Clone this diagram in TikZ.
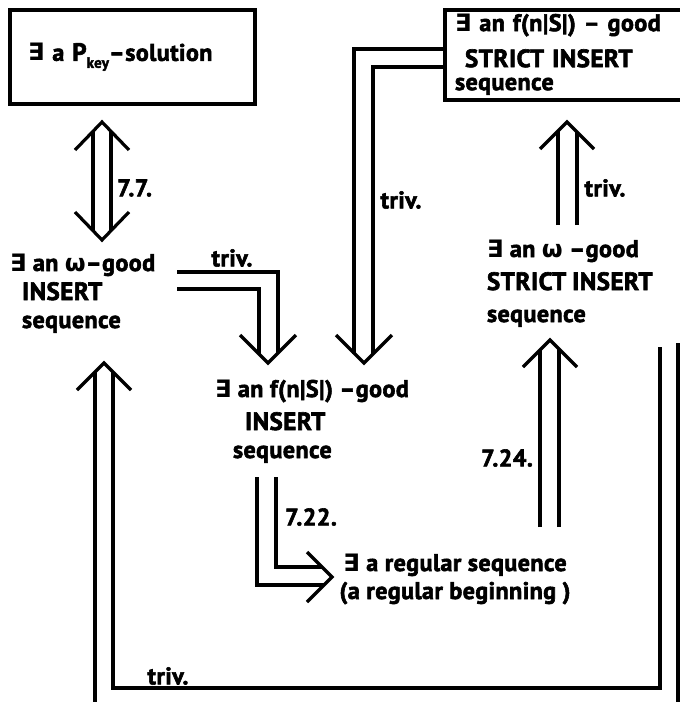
\documentclass[tikz,border=0pt]{standalone}
\usepackage{fontspec}
\newfontfamily\lf{PT Sans}[BoldFeatures={FakeBold=2.5}, LetterSpace=2]
\newfontfamily\djv{DejaVu Sans}
\newcommand\EX{{\djv\bfseries ∃}}
\newcommand\OM{{\djv\bfseries ω}}
\newcommand\K[1]{{\fontsize{25}{28}\selectfont #1}}
\newcommand\ML[3]{\fontsize{24}{#2}\selectfont\begin{tabular}[t]{@{}#1@{}}#3\end{tabular}}
\begin{document}
\begin{tikzpicture}[x=1pt,y=-1pt,
  txt/.style={font=\lf\bfseries\fontsize{24}{29}\selectfont, inner sep=0pt, outer sep=0pt, anchor=base west},
  bx/.style={draw, line width=3.2pt, inner sep=0pt, outer sep=0pt, anchor=north west,
    font=\lf\bfseries\fontsize{24}{29}\selectfont, align=left},
  ln/.style={line width=3.2pt, line join=miter},
  lbl/.style={font=\lf\bfseries\fontsize{24}{24}\selectfont, inner sep=0pt}]
\useasboundingbox (0,0) rectangle (680,702);

% boxes
\node[bx, minimum width=240pt, minimum height=94pt, text width=209pt, inner xsep=18pt] (B1) at (10,10)
  {\raisebox{-4pt}{\EX\ a \K{P}\raisebox{-7pt}{\fontsize{15}{15}\selectfont key}–solution}};
\node[bx, minimum width=232pt, minimum height=90pt, text width=220pt, inner xsep=10pt] (B2) at (445,10)
  {\ML{l}{28}{\EX\ an f(n|S|) – good\\[8pt]\hspace{10pt}\K{STRICT\hspace{8pt}INSERT}\\[-5pt]sequence}};

% text nodes
\node[txt] (L) at (10,271) {\ML{l}{29}{\EX\ an \OM–good\\\hspace{12pt}\K{INSERT}\\[-1pt]\hspace{12pt}sequence}};
\node[txt] (M) at (215,397)
  {\ML{l}{30}{\EX\ an f(n|S|) –good\\[3pt]\hspace{30pt}\K{INSERT}\\[-2pt]\hspace{18pt}sequence}};
\node[txt, anchor=base] (R) at (455,571) {\ML{c}{28}{\EX\ a regular sequence\\(a regular beginning )}};
\node[txt] (S) at (487,257)
  {\ML{l}{32}{\EX\ an \OM\ –good\\[1pt]\K{STRICT\hspace{6pt}INSERT}\\sequence}};

% 7.7 double-headed (B1 <-> L)
\draw[ln] (93,131) -- (93,231);
\draw[ln] (111,131) -- (111,231);
\draw[ln] (75,150) -- (102,122) -- (129,150);
\draw[ln] (75,212) -- (102,240) -- (129,212);
\node[lbl, anchor=west] (l77) at (117,188) {7.7.};

% triv L -> M
\draw[ln] (177,272) -- (278,272) -- (278,353);
\draw[ln] (177,289) -- (259,289) -- (259,354);
\draw[ln] (240,335) -- (268,363) -- (296,335);
\node[lbl] (t1) at (232,258) {triv.};

% triv B2 -> M
\draw[ln] (B2.west |- 0,49) -- (354,49) -- (354,354);
\draw[ln] (B2.west |- 0,67) -- (373,67) -- (373,354);
\draw[ln] (336,335) -- (364,363) -- (392,335);
\node[lbl] (t2) at (401,200) {triv.};

% triv S -> B2
\draw[ln] (558,225) -- (558,131);
\draw[ln] (577,225) -- (577,132);
\draw[ln] (540,149) -- (567,122) -- (594,149);
\node[lbl] (t3) at (605,188) {triv.};

% 7.22 M -> R
\draw[ln] (257,477) -- (257,585) -- (324,585);
\draw[ln] (276,477) -- (276,567) -- (322,567);
\draw[ln] (307,552) -- (332,577) -- (307,602);
\node[lbl] (l722) at (311,517) {7.22.};

% 7.24 -> S
\draw[ln] (540,527) -- (540,350);
\draw[ln] (559,527) -- (559,349);
\draw[ln] (523,367) -- (550,340) -- (577,367);
\node[lbl] (l724) at (507,458) {7.24.};

% big loop -> L
\draw[ln] (95,702) -- (95,372);
\draw[ln] (660,347) -- (660,688) -- (113,688) -- (113,372);
\draw[ln] (678,343) -- (678,702);
\draw[ln] (77,390) -- (104,363) -- (131,390);
\node[lbl] (t4) at (168,676) {triv.};
\end{tikzpicture}
\end{document}
